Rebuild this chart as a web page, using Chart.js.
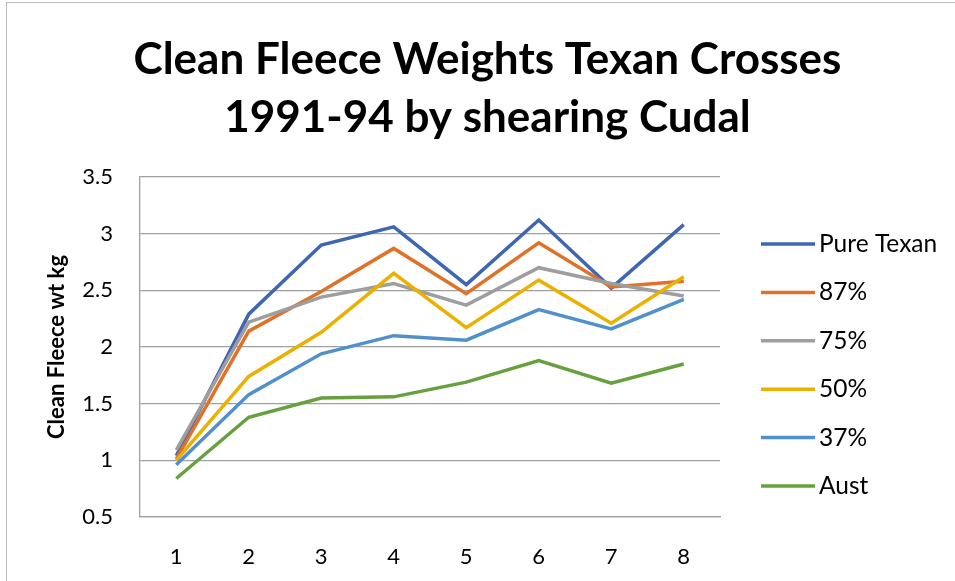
<!DOCTYPE html>
<html>
<head>
<meta charset="utf-8">
<script src="https://cdn.jsdelivr.net/npm/chart.js@4"></script>
<style>
  html, body { margin: 0; padding: 0; background: #fff; }
  #wrap { position: relative; width: 955px; height: 581px; overflow: hidden; }
  #frame {
    position: absolute; left: 6px; top: 2px; width: 1000px; height: 700px;
    border-left: 1.5px solid #bdbdbd; border-top: 1.5px solid #bdbdbd;
  }
  #chart { position: absolute; left: 0; top: 0; }
</style>
</head>
<body>
<div id="wrap">
  <div id="frame"></div>
  <canvas id="chart" width="955" height="581"></canvas>
</div>
<script>
// --- データ ---
const shearings = ['1', '2', '3', '4', '5', '6', '7', '8'];
const seriesNames = ['Pure Texan', '87%', '75%', '50%', '37%', 'Aust'];
const pureTexan = [1.04, 2.29, 2.90, 3.06, 2.55, 3.12, 2.52, 3.08];
const texan87 = [1.01, 2.14, 2.49, 2.87, 2.47, 2.92, 2.53, 2.58];
const texan75 = [1.09, 2.22, 2.44, 2.56, 2.37, 2.70, 2.56, 2.45];
const texan50 = [1.00, 1.74, 2.13, 2.65, 2.17, 2.59, 2.21, 2.62];
const texan37 = [0.96, 1.58, 1.94, 2.10, 2.06, 2.33, 2.16, 2.42];
const aust = [0.84, 1.38, 1.55, 1.56, 1.69, 1.88, 1.68, 1.85];
const yTicks = [0.5, 1, 1.5, 2, 2.5, 3, 3.5];

const seriesValues = [pureTexan, texan87, texan75, texan50, texan37, aust];
const colors = ['#3f67b1', '#e07128', '#9e9e9e', '#ebb000', '#5090cb', '#67a03f'];

const FONT = 'Lato, "Open Sans", sans-serif';

// 右側の凡例（線＋ラベル）を描く
const sideLegend = {
    id: 'sideLegend',
    afterDraw(chart) {
        const { ctx, chartArea } = chart;
        ctx.save();
        ctx.font = '24.5px ' + FONT;
        ctx.fillStyle = '#000';
        ctx.textBaseline = 'middle';
        ctx.lineWidth = 3.5;
        chart.data.datasets.forEach((ds, i) => {
            const y = chartArea.top + 67 + i * 48.4;
            ctx.strokeStyle = ds.borderColor;
            ctx.beginPath();
            ctx.moveTo(chartArea.right + 41, y);
            ctx.lineTo(chartArea.right + 95, y);
            ctx.stroke();
            ctx.fillText(ds.label, chartArea.right + 99, y);
        });
        ctx.restore();
    }
};

const datasets = seriesNames.map((name, i) => ({
    label: name,
    data: seriesValues[i],
    borderColor: colors[i],
    backgroundColor: colors[i],
    borderWidth: 3.5,
    pointRadius: 0,
    tension: 0,
    fill: false,
    order: seriesNames.length - i // 後の系列を上に
}));

new Chart(document.getElementById('chart'), {
    type: 'line',
    data: { labels: shearings, datasets: datasets },
    plugins: [sideLegend],
    options: {
        responsive: false,
        animation: false,
        layout: { padding: { left: 20, right: 0, top: 0, bottom: 0 } },
        plugins: {
            legend: { display: false },
            tooltip: { enabled: false },
            title: {
                display: true,
                text: ['Clean Fleece Weights Texan Crosses', '1991-94 by shearing Cudal'],
                color: '#000',
                font: { family: FONT, size: 44, weight: 'bold', lineHeight: 58 / 44 },
                padding: { top: 31, bottom: 30 }
            }
        },
        scales: {
            x: {
                offset: true,
                grid: { display: false },
                border: { display: true, color: '#a0a0a0', width: 1.3 },
                ticks: { color: '#000', font: { family: FONT, size: 22 }, padding: 19 },
                afterFit: (s) => { s.height = 64; }
            },
            y: {
                min: 0.5,
                max: 3.5,
                afterBuildTicks: (s) => { s.ticks = yTicks.map(v => ({ value: v })); },
                grid: { color: '#a0a0a0', lineWidth: 1.3, drawTicks: false },
                border: { display: true, color: '#a0a0a0', width: 1.3 },
                ticks: {
                    color: '#000',
                    font: { family: FONT, size: 22 },
                    padding: 27,
                    callback: (v) => String(v)
                },
                title: {
                    display: true,
                    text: 'Clean Fleece wt kg',
                    color: '#000',
                    font: { family: FONT, size: 22, weight: 'bold' },
                    padding: { top: 24, bottom: 0 }
                },
                afterFit: (s) => { s.width = 120; }
            },
            legendSpace: {
                type: 'linear',
                position: 'right',
                display: true,
                grid: { display: false },
                border: { display: false },
                ticks: { display: false },
                afterFit: (s) => { s.width = 235; }
            }
        }
    }
});
</script>
</body>
</html>
